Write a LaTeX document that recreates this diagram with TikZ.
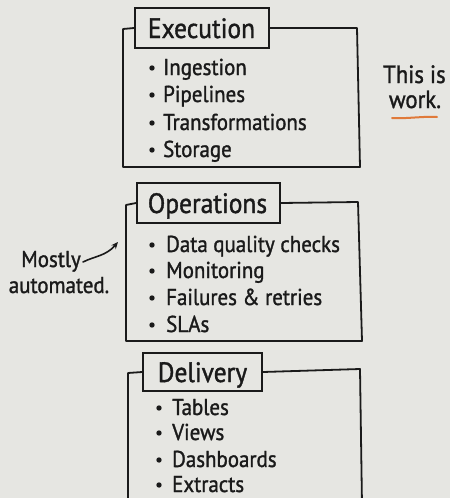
\documentclass[tikz,border=0pt]{standalone}
\usepackage{fontspec}
\usetikzlibrary{arrows.meta}
\newfontfamily\hand[FakeStretch=0.91,FakeBold=1.3]{PT Sans}
\definecolor{bg}{HTML}{E6E6E2}
\definecolor{ink}{HTML}{1A1A1A}
\definecolor{accent}{HTML}{E07A3A}
\begin{document}
\begin{tikzpicture}[x=1pt,y=-1pt,
  ink/.style={draw=ink,line width=1.8pt,line join=round,line cap=round},
  titlebox/.style={draw=ink,line width=1.8pt,inner sep=0pt},
  titletext/.style={anchor=base,inner sep=0pt,text=ink,font=\hand\fontsize{28}{30}\selectfont},
  itemtext/.style={anchor=base west,inner sep=0pt,text=ink,font=\hand\fontsize{23}{27}\selectfont},
  note/.style={inner sep=0pt,text=ink,font=\hand\fontsize{23}{27}\selectfont},
  dot/.style={fill=ink}]
\useasboundingbox (0,0) rectangle (450,498);
\fill[bg] (0,0) rectangle (450,498);

% ---------- Execution ----------
\node[titlebox,minimum width=134pt,minimum height=40pt] (exT) at (202,28) {};
\node[titletext] (exL) at (201.5,38) {Execution};
\draw[ink] (exT.west) -- (123,29) -- (123,167) -- (360,167) -- (357,28) -- (exT.east);
\foreach \y/\t/\n in {75/Ingestion/ex1, 102/Pipelines/ex2, 130/Transformations/ex3, 157/Storage/ex4}{
  \fill[dot] (152,\y-7) circle (2.7pt);
  \node[itemtext] (\n) at (163,\y) {\t};
}

% ---------- Operations ----------
\node[titlebox,minimum width=143pt,minimum height=40pt] (opT) at (208.5,203) {};
\node[titletext] (opL) at (207.5,213) {Operations};
\draw[ink] (opT.west) -- (126,205) -- (126,341) -- (362,341) -- (358,202) -- (opT.east);
\foreach \y/\t/\n in {252/Data quality checks/op1, 278/Monitoring/op2, 305/Failures \& retries/op3, 332/SLAs/op4}{
  \fill[dot] (152,\y-7) circle (2.7pt);
  \node[itemtext] (\n) at (166,\y) {\t};
}

% ---------- Delivery ----------
\node[titlebox,minimum width=119pt,minimum height=38pt] (dlT) at (202.5,372) {};
\node[titletext] (dlL) at (202.5,382) {Delivery};
\draw[ink] (dlT.west) -- (128,373) -- (128,505);
\draw[ink] (dlT.east) -- (360,369) -- (362,505);
\foreach \y/\t/\n in {415/Tables/dl1, 440/Views/dl2, 467/Dashboards/dl3, 492/Extracts/dl4}{
  \fill[dot] (159,\y-7) circle (2.7pt);
  \node[itemtext] (\n) at (172,\y) {\t};
}

% ---------- side notes ----------
\node[note,anchor=base] (m1) at (51,267) {Mostly};
\node[note,anchor=base] (m2) at (59,293) {automated.};
\coordinate (arrS) at (83,262);
\coordinate (arrE) at (118,242);
\draw[ink,line width=1.6pt,-{Stealth[length=7pt,width=6pt]}] (arrS) .. controls (95,256) and (106,256) .. (arrE);

\node[note,anchor=base west,font=\hand\fontsize{25}{28}\selectfont] (w1) at (383,83) {This is};
\node[note,anchor=base,font=\hand\fontsize{25}{28}\selectfont] (w2) at (415,108) {work.};
\coordinate (u1) at (392,118);
\coordinate (u2) at (437,117);
\draw[draw=accent,line width=2pt,line cap=round] (u1) .. controls (405,119) and (425,116) .. (u2);
\end{tikzpicture}
\end{document}
